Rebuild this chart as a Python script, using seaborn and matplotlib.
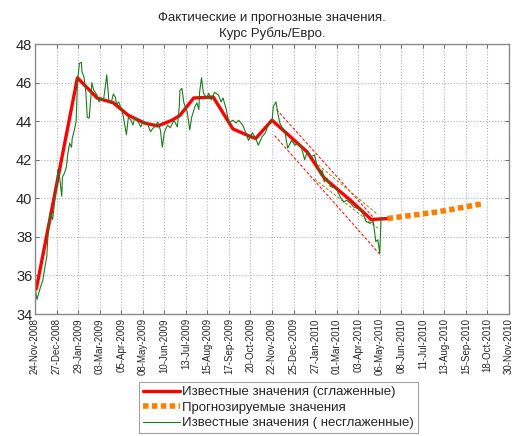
import matplotlib
matplotlib.use('Agg')
import matplotlib.pyplot as plt
import numpy as np
import pandas as pd
import seaborn as sns
from matplotlib.lines import Line2D

# days counted from 24-Nov-2008
green_day = [0, 3, 8, 12, 15, 18, 20, 23, 27, 30, 33, 35, 38, 41, 42, 45, 48, 50, 53, 56,
             57, 60, 63, 65, 68, 71, 72, 75, 78, 80, 83, 86, 87, 90, 95, 98, 101, 105, 110, 113,
             117, 120, 123, 125, 128, 131, 135, 140, 143, 147, 150, 153, 158, 162, 165, 168, 173, 177, 180, 183,
             188, 192, 195, 198, 203, 207, 213, 218, 221, 222, 225, 228, 233, 237, 240, 245, 248, 251, 252, 255,
             258, 260, 263, 266, 270, 275, 281, 285, 288, 293, 297, 303, 308, 312, 318, 323, 327, 333, 338, 342,
             348, 353, 357, 363, 365, 369, 372, 375, 378, 383, 387, 393, 398, 402, 408, 413, 417, 423, 428, 432,
             438, 440, 443, 447, 453, 458, 462, 468, 473, 477, 483, 488, 492, 498, 503, 507, 513, 518, 521, 522,
             525, 528, 530, 533]
green_val = [35.4, 34.75, 35.35, 35.75, 36.4, 36.95, 38.2, 39.25, 38.9, 39.8, 40.6, 41.5, 41.0, 40.1, 41.1, 41.3, 41.6, 42.25, 42.85, 42.65,
             43.1, 43.5, 44.0, 46.0, 47.0, 47.05, 46.55, 46.3, 45.45, 44.2, 44.15, 45.45, 46.0, 45.6, 45.35, 45.0, 45.2, 45.1, 46.4, 45.1,
             45.0, 45.4, 45.25, 44.85, 45.0, 44.75, 44.3, 43.3, 44.2, 44.05, 43.8, 44.2, 43.95, 43.7, 44.0, 43.95, 43.8, 43.45, 43.6, 43.7,
             43.95, 43.55, 42.65, 43.4, 43.8, 43.65, 44.05, 43.7, 44.75, 45.6, 45.7, 44.95, 44.5, 43.55, 44.2, 44.75, 44.95, 44.6, 45.45, 46.25,
             45.45, 45.35, 45.2, 45.45, 45.1, 45.5, 45.35, 45.0, 45.2, 44.6, 43.9, 44.05, 43.9, 44.05, 43.8, 43.4, 43.0, 43.4, 43.1, 42.75,
             43.2, 43.4, 43.8, 43.95, 44.75, 45.0, 44.4, 43.9, 43.7, 43.4, 42.6, 43.0, 42.75, 42.85, 42.65, 42.0, 42.4, 42.15, 42.25, 41.7,
             41.2, 41.45, 40.85, 41.05, 40.6, 40.55, 40.45, 40.05, 39.8, 39.9, 39.75, 39.55, 39.5, 39.4, 39.15, 38.8, 38.7, 38.8, 38.0, 37.75,
             37.85, 37.15, 38.95, 39.0]

smooth_day = [2, 65, 95, 120, 143, 168, 188, 210, 222, 243, 273, 303, 330, 338, 363, 417, 443, 483, 515, 540]
smooth_val = [35.3, 46.25, 45.2, 44.95, 44.3, 43.9, 43.75, 44.05, 44.3, 45.2, 45.25, 43.6, 43.2, 43.1, 44.05, 42.4, 41.05, 39.9, 38.9, 38.95]

forecast_day = [540, 618, 686]
forecast_val = [38.95, 39.3, 39.72]

# confidence channel of the last trend segment (start/end)
outer_hi_day, outer_hi_val = [370, 520], [44.6, 38.95]
outer_lo_day, outer_lo_val = [367, 528], [43.25, 37.1]
inner_hi_day, inner_hi_val = [428, 525], [41.9, 39.15]
inner_lo_day, inner_lo_val = [428, 525], [41.0, 38.45]

tick_labels = ['24-Nov-2008', '27-Dec-2008', '29-Jan-2009', '03-Mar-2009', '05-Apr-2009', '08-May-2009',
               '10-Jun-2009', '13-Jul-2009', '15-Aug-2009', '17-Sep-2009', '20-Oct-2009', '22-Nov-2009',
               '25-Dec-2009', '27-Jan-2010', '01-Mar-2010', '03-Apr-2010', '06-May-2010', '08-Jun-2010',
               '11-Jul-2010', '13-Aug-2010', '15-Sep-2010', '18-Oct-2010', '30-Nov-2010']
tick_step = 33

legend_labels = ['Известные значения (сглаженные)', 'Прогнозируемые значения',
                 'Известные значения ( несглаженные)']


def main():
    sns.set_style('white')
    plt.rcParams['font.family'] = ['Liberation Sans', 'DejaVu Sans']

    fig = plt.figure(figsize=(5.17, 4.36), dpi=100)
    ax = fig.add_axes([35 / 517, 1 - 314 / 436, 474 / 517, 270 / 436])

    red = '#ff0000'
    orange = '#ff8000'
    green = '#1e7a1e'

    sns.lineplot(x=outer_hi_day, y=outer_hi_val, ax=ax, color=red, lw=0.7, linestyle=(0, (3, 2)), legend=False)
    sns.lineplot(x=outer_lo_day, y=outer_lo_val, ax=ax, color=red, lw=0.7, linestyle=(0, (3, 2)), legend=False)
    sns.lineplot(x=inner_hi_day, y=inner_hi_val, ax=ax, color='#9a7a20', lw=0.7, linestyle=(0, (3, 2)), legend=False)
    sns.lineplot(x=inner_lo_day, y=inner_lo_val, ax=ax, color='#9a7a20', lw=0.7, linestyle=(0, (3, 2)), legend=False)

    sns.lineplot(x=smooth_day, y=smooth_val, ax=ax, color=red, lw=2.4, legend=False, sort=False)
    sns.lineplot(x=forecast_day, y=forecast_val, ax=ax, color=orange, lw=4.0,
                 linestyle=(0, (1, 0.6)), legend=False)
    sns.lineplot(x=green_day, y=green_val, ax=ax, color=green, lw=0.8, legend=False, sort=False)

    ticks = np.arange(len(tick_labels)) * tick_step
    ax.set_xlim(ticks[0], ticks[-1])
    ax.set_ylim(34, 48)
    ax.set_xticks(ticks)
    ax.set_xticklabels(tick_labels, rotation=90, fontsize=7)
    ax.set_yticks(np.arange(34, 49, 2))
    ax.tick_params(axis='y', labelsize=10.5, pad=2)
    ax.tick_params(axis='x', pad=3)
    ax.tick_params(direction='in', length=3, top=True, right=True, bottom=True, left=True,
                   color='#555555', width=0.6)
    ax.set_xlabel(None)
    ax.set_ylabel(None)
    ax.grid(True, linestyle=':', color='#b0b0b0', linewidth=0.8)
    for sp in ax.spines.values():
        sp.set_color('#8a8a8a')
        sp.set_linewidth(1.0)

    ax.set_title('Фактические и прогнозные значения.\nКурс Рубль/Евро.', fontsize=9.5, pad=5,
                 linespacing=1.35)

    handles = [Line2D([], [], color=red, lw=2.4),
               Line2D([], [], color=orange, lw=4.0, linestyle=(0, (1, 0.6))),
               Line2D([], [], color=green, lw=0.8)]
    leg = fig.legend(handles, legend_labels, loc='upper center', bbox_to_anchor=(0.539, 1 - 382 / 436),
                     fontsize=9.5, frameon=True, fancybox=False, edgecolor='#8a8a8a',
                     handlelength=2.8, handletextpad=0.15, labelspacing=0.25, borderpad=0.3,
                     borderaxespad=0)
    leg.get_frame().set_linewidth(0.8)

    plt.savefig('out.png', dpi=100)


if __name__ == '__main__':
    main()
